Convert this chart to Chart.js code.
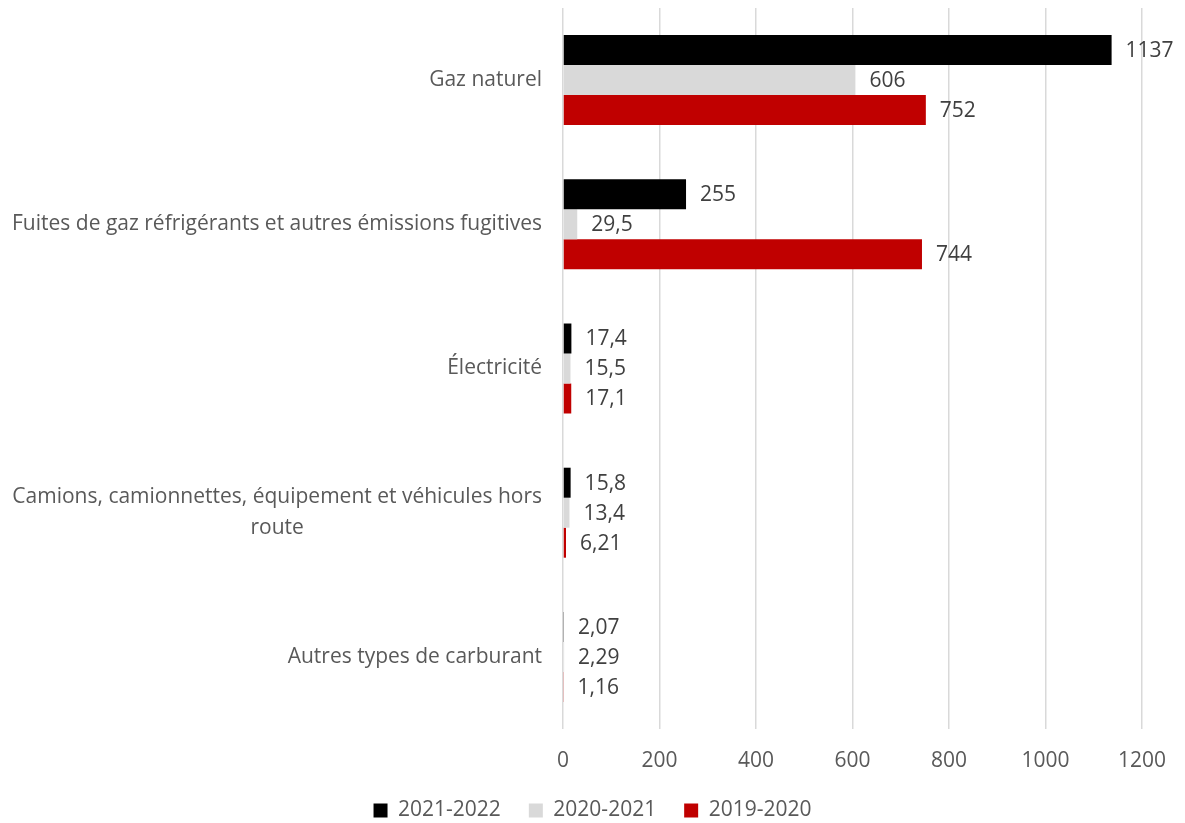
<!DOCTYPE html>
<html>
<head>
<meta charset="utf-8">
<script src="https://cdn.jsdelivr.net/npm/chart.js@4.4.1/dist/chart.umd.min.js"></script>
<style>
  html, body { margin: 0; padding: 0; background: #fff; }
  #wrap { width: 1185px; height: 823px; position: relative; }
</style>
</head>
<body>
<div id="wrap"><canvas id="chart"></canvas></div>
<script>
const categories = [
  ["Gaz naturel"],
  ["Fuites de gaz réfrigérants et autres émissions fugitives"],
  ["Électricité"],
  ["Camions, camionnettes, équipement et véhicules hors", "route"],
  ["Autres types de carburant"],
];
const seriesNames = ["2021-2022", "2020-2021", "2019-2020"];
const values2122 = [1137, 255, 17.4, 15.8, 2.07];
const values2021 = [606, 29.5, 15.5, 13.4, 2.29];
const values1920 = [752, 744, 17.1, 6.21, 1.16];
const xTicks = [0, 200, 400, 600, 800, 1000, 1200];

const FONT = "'Open Sans', 'Liberation Sans', sans-serif";
const SIZE = 21;
const colors = ["#000000", "#d9d9d9", "#c00000"];

const fmt = (v) => String(v).replace(".", ",");

// value labels right of each bar
const valueLabels = {
  id: "valueLabels",
  afterDatasetsDraw(chart) {
    const { ctx } = chart;
    ctx.save();
    ctx.font = SIZE + "px " + FONT;
    ctx.fillStyle = "#404040";
    ctx.textAlign = "left";
    ctx.textBaseline = "middle";
    chart.data.datasets.forEach((ds, di) => {
      chart.getDatasetMeta(di).data.forEach((bar, i) => {
        ctx.fillText(fmt(ds.data[i]), bar.x + 14, bar.y + 1);
      });
    });
    ctx.restore();
  },
};

// category labels, multi-line centred in a right-aligned block like Excel
const catLabels = {
  id: "catLabels",
  afterDraw(chart) {
    const { ctx } = chart;
    const y = chart.scales.y;
    ctx.save();
    ctx.font = SIZE + "px " + FONT;
    ctx.fillStyle = "#595959";
    ctx.textBaseline = "middle";
    ctx.textAlign = "center";
    const right = 542;
    const lh = 31;
    categories.forEach((lines, i) => {
      const cy = y.getPixelForValue(i);
      const w = Math.max(...lines.map((l) => ctx.measureText(l).width));
      const cx = right - w / 2;
      const y0 = cy - ((lines.length - 1) * lh) / 2;
      lines.forEach((l, k) => ctx.fillText(l, cx, y0 + k * lh));
    });
    ctx.restore();
  },
};

new Chart(document.getElementById("chart"), {
  type: "bar",
  data: {
    labels: categories.map((c) => c.join(" ")),
    datasets: [values2122, values2021, values1920].map((d, i) => ({
      label: seriesNames[i],
      data: d,
      backgroundColor: colors[i],
      borderWidth: 0,
      barPercentage: 1,
      categoryPercentage: 0.624,
    })),
  },
  options: {
    indexAxis: "y",
    responsive: true,
    maintainAspectRatio: false,
    animation: false,
    layout: { padding: { top: 8, right: 0, bottom: -8, left: 0 } },
    plugins: {
      tooltip: { enabled: false },
      legend: {
        position: "bottom",
        labels: {
          font: { family: FONT, size: SIZE },
          color: "#595959",
          boxWidth: 14,
          boxHeight: 14,
          padding: 28,
        },
      },
    },
    scales: {
      x: {
        min: 0,
        max: 1200,
        afterBuildTicks: (s) => {
          s.ticks = xTicks.map((v) => ({ value: v }));
        },
        afterFit: (s) => {
          s.height = 43;
          s.paddingRight = 43;
        },
        grid: { color: "#d9d9d9", lineWidth: 1.5, drawTicks: false },
        border: { display: false },
        ticks: {
          font: { family: FONT, size: SIZE },
          color: "#595959",
          padding: 19,
          callback: (v) => String(v),
        },
      },
      y: {
        grid: { display: false },
        border: { display: false },
        ticks: { display: false },
        afterFit: (s) => {
          s.width = 563;
        },
      },
    },
  },
  plugins: [valueLabels, catLabels],
});
</script>
</body>
</html>
